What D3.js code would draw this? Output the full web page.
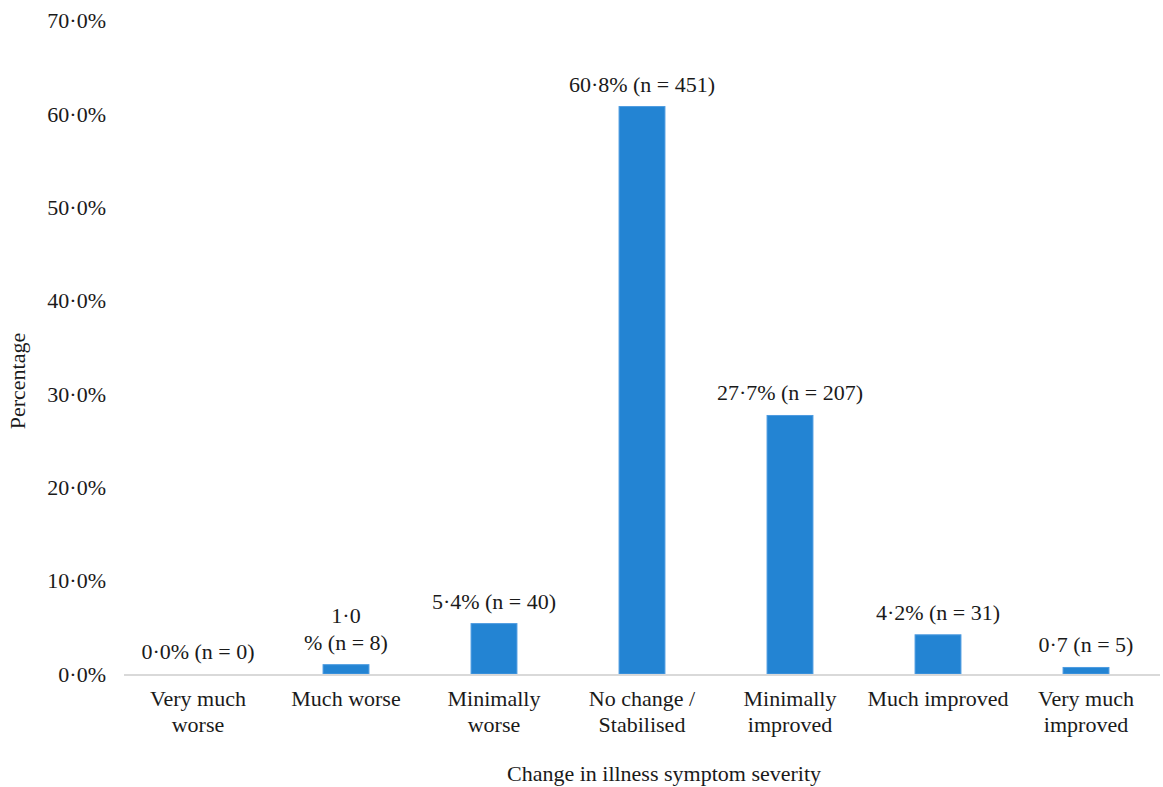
<!DOCTYPE html>
<html>
<head>
<meta charset="utf-8">
<script src="https://cdn.jsdelivr.net/npm/d3@7"></script>
<style>
  html, body { margin: 0; padding: 0; background: #fff; }
</style>
</head>
<body>
<svg id="chart" width="1163" height="787"></svg>
<script>
// Change in illness symptom severity (percentage of respondents)
const categories = [
  ["Very much", "worse"],
  ["Much worse"],
  ["Minimally", "worse"],
  ["No change /", "Stabilised"],
  ["Minimally", "improved"],
  ["Much improved"],
  ["Very much", "improved"]
];
const percentages = [0.0, 1.0, 5.4, 60.8, 27.7, 4.2, 0.7];
const valueLabels = [
  ["0\u00B70% (n = 0)"],
  ["1\u00B70", "% (n = 8)"],
  ["5\u00B74% (n = 40)"],
  ["60\u00B78% (n = 451)"],
  ["27\u00B77% (n = 207)"],
  ["4\u00B72% (n = 31)"],
  ["0\u00B77 (n = 5)"]
];
const yTicks = [0, 10, 20, 30, 40, 50, 60, 70];

const svg = d3.select("#chart")
  .attr("font-family", "'Liberation Serif', Tinos, 'Times New Roman', 'DejaVu Serif', serif")
  .style("font-family", "'Liberation Serif', Tinos, 'Times New Roman', 'DejaVu Serif', serif");
const fontSize = 22;
const textColor = "#1a1a1a";

const x = d3.scaleBand()
  .domain(d3.range(categories.length))
  .range([124, 1160])
  .paddingInner(0.69)
  .paddingOuter(0.345);

const y = d3.scaleLinear().domain([0, 70]).range([674, 20.7]);

const fmt = v => d3.format(".1f")(v).replace(".", "\u00B7") + "%";

// y-axis tick labels (no axis line, no gridlines)
svg.append("g")
  .selectAll("text")
  .data(yTicks)
  .join("text")
  .attr("x", 106)
  .attr("y", d => y(d))
  .attr("dy", "0.35em")
  .attr("text-anchor", "end")
  .attr("fill", textColor)
  .style("font-size", fontSize + "px")
  .text(fmt);

// bars
svg.append("g")
  .selectAll("rect")
  .data(percentages)
  .join("rect")
  .attr("x", (d, i) => x(i))
  .attr("y", d => y(d))
  .attr("width", x.bandwidth())
  .attr("height", d => y(0) - y(d))
  .attr("fill", "#2384d3")
  .attr("stroke", "#4d9be0")
  .attr("stroke-width", 1);

// baseline
svg.append("line")
  .attr("x1", 124).attr("x2", 1160)
  .attr("y1", y(0) + 1).attr("y2", y(0) + 1)
  .attr("stroke", "#d9d9d9")
  .attr("stroke-width", 2);

// value labels above bars
const lineH = 27;
svg.append("g")
  .selectAll("text")
  .data(valueLabels)
  .join("text")
  .attr("text-anchor", "middle")
  .attr("fill", textColor)
  .style("font-size", fontSize + "px")
  .each(function (lines, i) {
    const cx = x(i) + x.bandwidth() / 2;
    const base = y(percentages[i]) - 15;
    d3.select(this).selectAll("tspan")
      .data(lines)
      .join("tspan")
      .attr("x", cx)
      .attr("y", (l, k) => base - (lines.length - 1 - k) * lineH)
      .text(l => l);
  });

// category labels
svg.append("g")
  .selectAll("text")
  .data(categories)
  .join("text")
  .attr("text-anchor", "middle")
  .attr("fill", textColor)
  .style("font-size", fontSize + "px")
  .each(function (lines, i) {
    const cx = x(i) + x.bandwidth() / 2;
    d3.select(this).selectAll("tspan")
      .data(lines)
      .join("tspan")
      .attr("x", cx)
      .attr("y", (l, k) => 706 + k * 26)
      .text(l => l);
  });

// axis titles
svg.append("text")
  .attr("x", 664)
  .attr("y", 781)
  .attr("text-anchor", "middle")
  .attr("fill", textColor)
  .style("font-size", fontSize + "px")
  .text("Change in illness symptom severity");

svg.append("text")
  .attr("transform", "translate(25,381) rotate(-90)")
  .attr("text-anchor", "middle")
  .attr("fill", textColor)
  .style("font-size", fontSize + "px")
  .text("Percentage");
</script>
</body>
</html>
